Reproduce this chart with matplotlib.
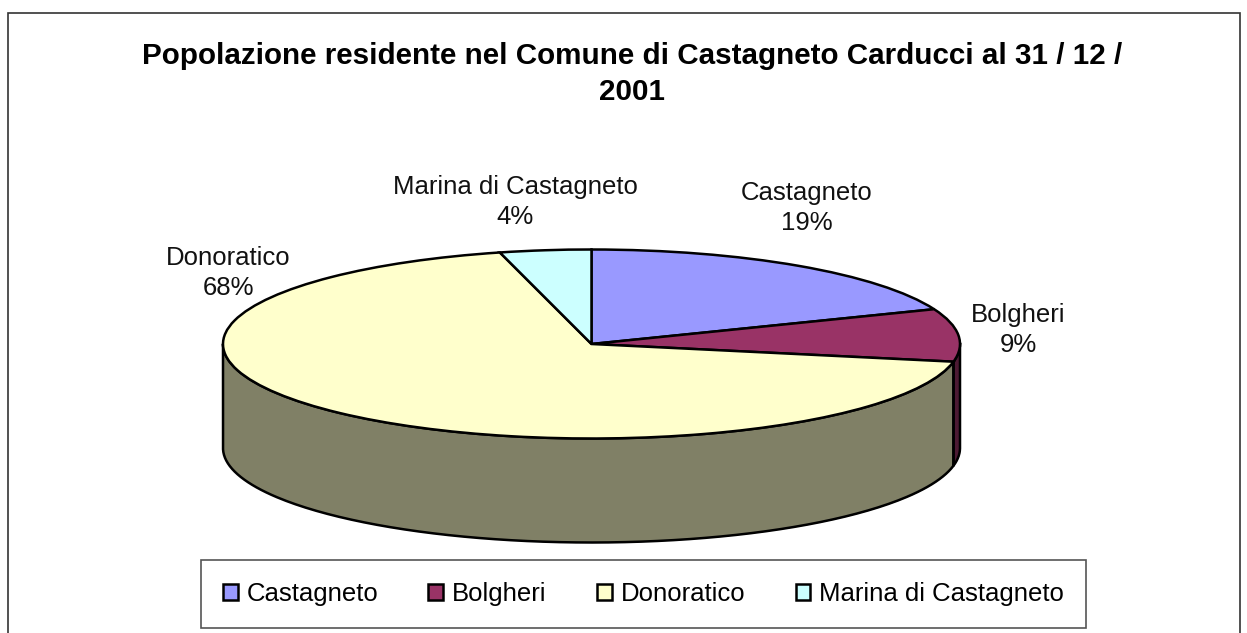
import numpy as np
from matplotlib import pyplot as plt
from matplotlib.patches import Rectangle

plt.rcParams['font.family'] = ['Liberation Sans', 'DejaVu Sans']

title = "Popolazione residente nel Comune di Castagneto Carducci al 31 / 12 /\n2001"
names = ['Castagneto', 'Bolgheri', 'Donoratico', 'Marina di Castagneto']
percents = [19, 9, 68, 4]
top_colors = ['#9999ff', '#993366', '#ffffcc', '#ccffff']
side_colors = ['#4d4d80', '#4d1a33', '#808066', '#668080']

W, H = 1247, 633
fig = plt.figure(figsize=(W / 100, H / 100), dpi=100)

# full figure axes in pixel coordinates for the frame and the text
bg = fig.add_axes([0, 0, 1, 1])
bg.set_xlim(0, W)
bg.set_ylim(H, 0)
bg.axis('off')
bg.add_patch(Rectangle((7.5, 12.5), 1232, 640, fc='white', ec='#333333', lw=1.2))
bg.text(632.5, 74, title, ha='center', va='center', fontsize=21.3, fontweight='bold',
        linespacing=1.34)

label_pos = [(807, 208), (1018, 330), (228, 273), (515, 202)]
for name, pct, (lx, ly) in zip(names, percents, label_pos):
    bg.text(lx, ly, f"{name}\n{pct}%", ha='center', va='center', fontsize=18.5,
            color='#111111', linespacing=1.3)

# pie axes, squashed so the circle becomes the top ellipse
cx, cy, rx, ry = 591.5, 344, 368.5, 94.5
depth = 104 / ry
ax = fig.add_axes([(cx - rx) / W, 1 - (cy + ry) / H, 2 * rx / W, 2 * ry / H])
wedges, _ = ax.pie(percents, colors=top_colors, startangle=90, counterclock=False,
                   wedgeprops={'edgecolor': 'black', 'linewidth': 1.8, 'clip_on': False,
                               'zorder': 3})
ax.set_aspect('auto')
ax.set_xlim(-1, 1)
ax.set_ylim(-1, 1)
ax.patch.set_visible(False)

# side wall, only the front half (90 to 270 degrees clockwise from the top)
edges = np.cumsum([0] + percents) * 3.6
for i in range(len(percents)):
    a0 = max(edges[i], 90)
    a1 = min(edges[i + 1], 270)
    if a1 <= a0:
        continue
    t = np.radians(np.linspace(a0, a1, 200))
    x = np.sin(t)
    y = np.cos(t)
    ax.fill_between(x, y, y - depth, color=side_colors[i], lw=0, clip_on=False, zorder=1)
    xs = np.r_[x, x[::-1], x[0]]
    ys = np.r_[y, (y - depth)[::-1], y[0]]
    ax.plot(xs, ys, color='black', lw=1.8, clip_on=False, zorder=2)

leg = fig.legend(wedges, names, ncol=4, loc='center',
                 bbox_to_anchor=(643.5 / W, 1 - 594 / H), fontsize=18.5,
                 frameon=True, fancybox=False, edgecolor='#555555', framealpha=1,
                 handlelength=0.58, handleheight=0.58, handletextpad=0.35,
                 columnspacing=1.95, borderpad=0.86, borderaxespad=0)
leg.get_frame().set_linewidth(1.2)

fig.savefig('out.png', dpi=100)
